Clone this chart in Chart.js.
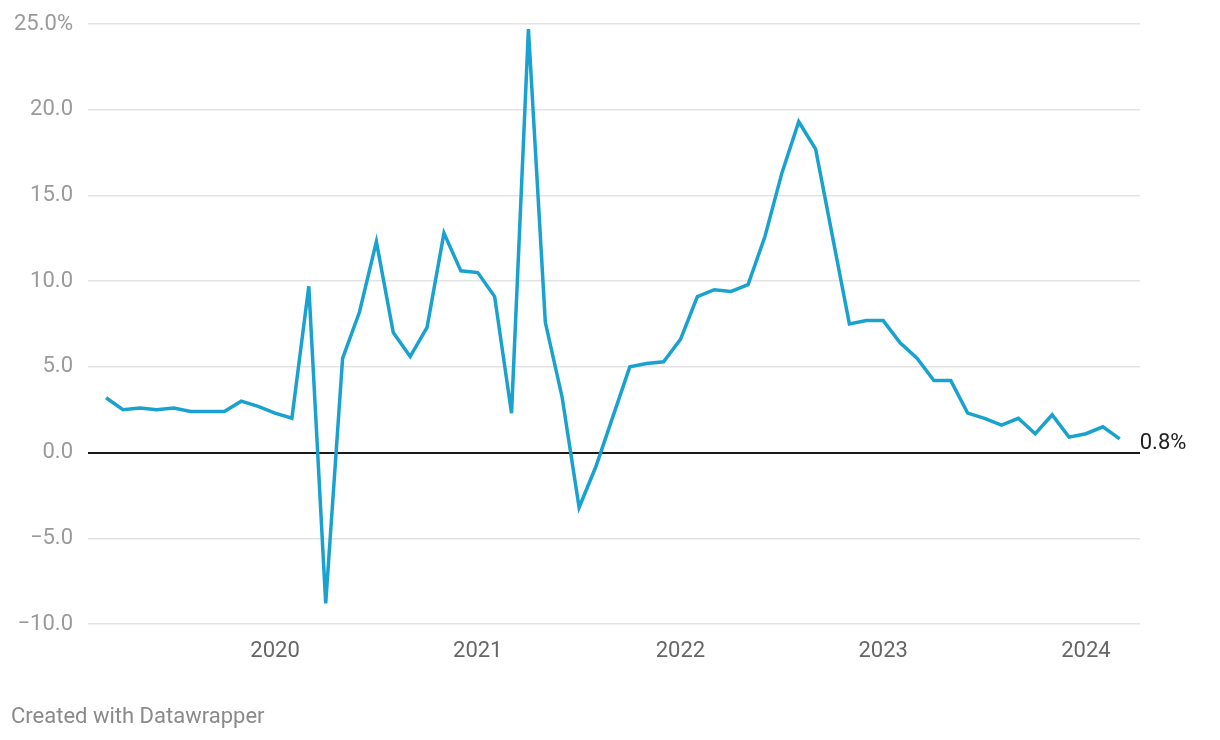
<!DOCTYPE html>
<html>
<head>
<meta charset="utf-8">
<script src="https://cdn.jsdelivr.net/npm/chart.js@4/dist/chart.umd.min.js"></script>
<style>
  body { margin: 0; background: #fff; font-family: Roboto, sans-serif; }
  #wrap { position: relative; width: 1220px; height: 740px; }
  #credit { position: absolute; left: 11px; top: 702px; font-size: 22px; line-height: 28px; color: #8a8a8a; }
</style>
</head>
<body>
<div id="wrap">
  <canvas id="chart" width="1220" height="740"></canvas>
  <div id="credit">Created with Datawrapper</div>
</div>
<script>
// monthly, Mar 2019 - Mar 2024
const months = [
  "2019-03","2019-04","2019-05","2019-06","2019-07","2019-08","2019-09","2019-10","2019-11","2019-12",
  "2020-01","2020-02","2020-03","2020-04","2020-05","2020-06","2020-07","2020-08","2020-09","2020-10","2020-11","2020-12",
  "2021-01","2021-02","2021-03","2021-04","2021-05","2021-06","2021-07","2021-08","2021-09","2021-10","2021-11","2021-12",
  "2022-01","2022-02","2022-03","2022-04","2022-05","2022-06","2022-07","2022-08","2022-09","2022-10","2022-11","2022-12",
  "2023-01","2023-02","2023-03","2023-04","2023-05","2023-06","2023-07","2023-08","2023-09","2023-10","2023-11","2023-12",
  "2024-01","2024-02","2024-03"
];
const values = [
  3.2, 2.5, 2.6, 2.5, 2.6, 2.4, 2.4, 2.4, 3.0, 2.7,
  2.3, 2.0, 9.7, -8.8, 5.5, 8.2, 12.3, 7.0, 5.6, 7.3, 12.8, 10.6,
  10.5, 9.1, 2.3, 24.7, 7.6, 3.2, -3.2, -0.8, 2.1, 5.0, 5.2, 5.3,
  6.6, 9.1, 9.5, 9.4, 9.8, 12.6, 16.3, 19.3, 17.7, 12.6, 7.5, 7.7,
  7.7, 6.4, 5.5, 4.2, 4.2, 2.3, 2.0, 1.6, 2.0, 1.1, 2.2, 0.9,
  1.1, 1.5, 0.8
];
const yearTicks = ["2020", "2021", "2022", "2023", "2024"];
const yTicks = [-10, -5, 0, 5, 10, 15, 20, 25];

const lineColor = "#19a2cf";

// value label at the end of the line
const endLabel = {
  id: "endLabel",
  afterDatasetsDraw(chart) {
    const meta = chart.getDatasetMeta(0);
    const last = meta.data[meta.data.length - 1];
    const ctx = chart.ctx;
    ctx.save();
    ctx.font = "22px Roboto";
    ctx.fillStyle = "#222";
    ctx.textAlign = "left";
    ctx.textBaseline = "middle";
    ctx.fillText(values[values.length - 1].toFixed(1) + "%", last.x + 20, last.y + 5);
    ctx.restore();
  }
};

new Chart(document.getElementById("chart"), {
  type: "line",
  data: {
    datasets: [{
      data: values.map((v, i) => ({ x: i, y: v })),
      borderColor: lineColor,
      borderWidth: 3.5,
      pointRadius: 0,
      tension: 0,
      fill: false
    }]
  },
  options: {
    responsive: false,
    animation: false,
    layout: { padding: { left: 0, right: 80, top: 24, bottom: 66 } },
    plugins: { legend: { display: false }, tooltip: { enabled: false } },
    scales: {
      x: {
        type: "linear",
        min: -1.07,
        max: 61.2,
        grid: { display: false, drawTicks: false },
        border: { display: false },
        afterBuildTicks(scale) {
          scale.ticks = yearTicks.map(y => ({ value: months.indexOf(y + "-01") }));
        },
        afterFit(scale) { scale.height = 50; },
        ticks: {
          autoSkip: false,
          maxRotation: 0,
          padding: 14,
          font: { family: "Roboto", size: 22 },
          color: "#666",
          callback: (v) => months[v] ? months[v].slice(0, 4) : ""
        }
      },
      y: {
        min: -10,
        max: 25,
        afterBuildTicks(scale) {
          scale.ticks = yTicks.map(v => ({ value: v }));
        },
        afterFit(scale) {
          scale.width = 88;
          // keep the plot top at the layout padding
          scale.paddingTop = 12;
          scale.paddingBottom = 12;
        },
        grid: {
          drawTicks: false,
          color: (c) => c.tick && c.tick.value === 0 ? "#1a1a1a" : "#e3e3e3",
          lineWidth: (c) => c.tick && c.tick.value === 0 ? 2 : 1.5
        },
        border: { display: false },
        ticks: {
          padding: 15,
          font: { family: "Roboto", size: 22 },
          color: "#9a9a9a",
          callback: (v) => {
            const s = Math.abs(v).toFixed(1);
            if (v === 25) return s + "%";
            return v < 0 ? "\u2212" + s : s;
          }
        }
      }
    }
  },
  plugins: [endLabel]
});
</script>
</body>
</html>
